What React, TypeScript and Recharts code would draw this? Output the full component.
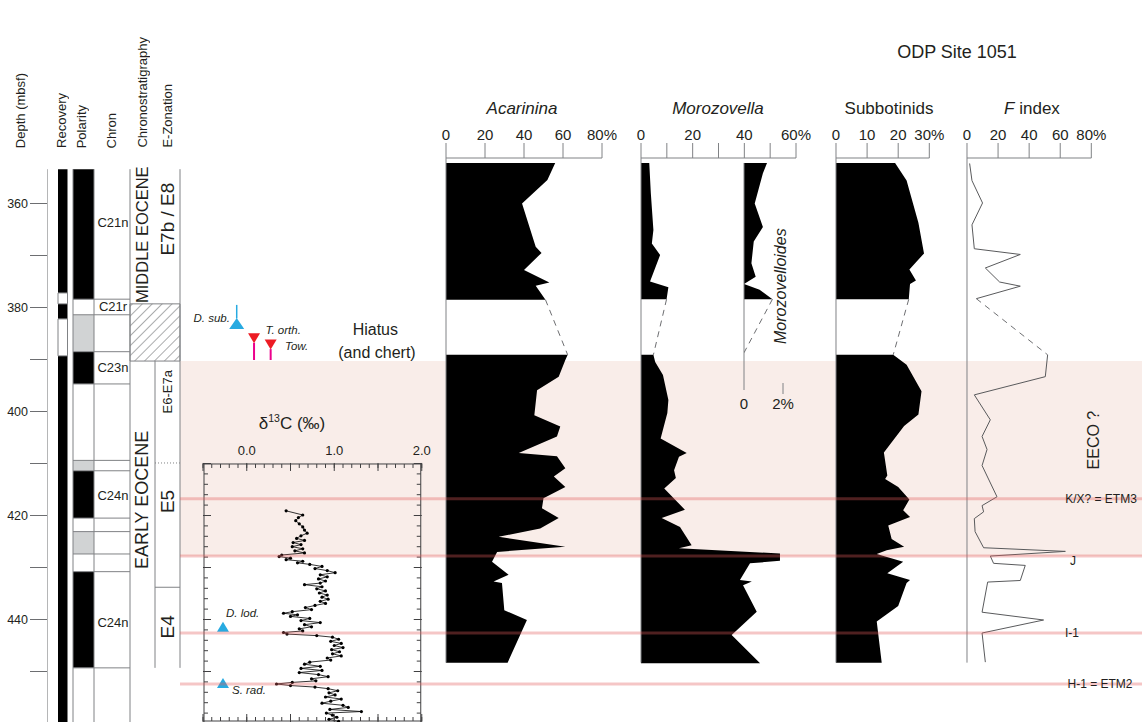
import React from 'react';
import {
  ComposedChart,
  Area,
  Line,
  XAxis,
  YAxis,
  ReferenceLine,
  ReferenceArea,
  ReferenceDot,
} from 'recharts';

type Pair = [number, number]; // [depth mbsf, value]

// ---------- census data (depth, %) ----------
const ACARININA_UPPER: Pair[] = [[352.2, 56], [355.5, 52], [360.0, 39], [368.3, 46], [369.5, 49], [372.8, 40], [375.2, 53], [375.8, 46], [378.5, 51]];
const ACARININA_LOWER: Pair[] = [[389.1, 62.4], [390.1, 61.2], [393.3, 57.8], [395.9, 46.7], [400.7, 45.3], [402.9, 58.6], [404.8, 56.9], [408.0, 37.3], [408.6, 56.9], [410.9, 61.2], [412.5, 55.3], [414.5, 61.2], [416.7, 50], [418.6, 49.2], [420.5, 57.8], [422.5, 48.3], [424.1, 27], [426.0, 61.2], [427.0, 26.2], [428.9, 23.6], [431.4, 32.1], [432.7, 24.4], [433.0, 28.7], [438.2, 29.9], [440.1, 41.5], [448.3, 31.6]];

const MOROZOVELLA_UPPER: Pair[] = [[352.2, 3.2], [358.0, 3.8], [365.1, 4.8], [367.7, 4.2], [369.9, 7.4], [375.0, 3.5], [376.1, 10.6], [378.4, 9.9]];
const MOROZOVELLA_LOWER: Pair[] = [[389.1, 4.8], [390.5, 5.5], [393.0, 8.5], [397.8, 10.6], [400.3, 10.2], [405.2, 7.6], [408.0, 17.7], [408.7, 14.7], [411.3, 12.8], [412.8, 13.5], [414.8, 9.0], [418.9, 17.0], [420.5, 8.0], [422.2, 15.1], [425.7, 19.6], [426.3, 14.7], [427.3, 53.8], [428.7, 53.8], [429.2, 42.2], [432.4, 38.3], [432.7, 42.9], [433.4, 39.5], [438.5, 44.8], [443.0, 35.1], [448.4, 46.1]];

const MOROZOVELLOIDES_UPPER: Pair[] = [[352.2, 1.18], [354.2, 0.97], [360.0, 0.55], [364.5, 0.97], [367.3, 0.5], [371.5, 0.38], [374.1, 0.6], [375.5, 0.0], [376.6, 0.8], [378.4, 1.46]];
const MOROZOVELLOIDES_LOWER: Pair[] = [[388.7, 0], [395.9, 0]];

const SUBBOTINIDS_UPPER: Pair[] = [[352.2, 19.0], [355.6, 22.7], [363.7, 26.5], [369.6, 28.3], [372.7, 23.6], [374.8, 25.7], [375.5, 23.8], [378.4, 23.4]];
const SUBBOTINIDS_LOWER: Pair[] = [[389.1, 18.4], [391.0, 22.7], [396.1, 27.5], [400.6, 26.5], [402.8, 21.9], [407.9, 15.4], [412.3, 16.5], [413.0, 15.8], [414.5, 20.0], [416.9, 23.6], [419.0, 21.6], [420.3, 23.8], [421.9, 16.8], [424.5, 17.9], [426.0, 21.9], [426.7, 16.3], [427.4, 13.1], [428.9, 21.6], [431.1, 16.5], [432.4, 23.8], [433.0, 22.7], [437.4, 20.0], [440.4, 13.1], [448.3, 14.7]];

const F_INDEX_UPPER: Pair[] = [[352.3, 1.7], [355.6, 3.2], [359.9, 10.0], [364.1, 3.2], [368.7, 4.7], [369.8, 34.3], [372.4, 11.8], [375.1, 21.0], [375.9, 34.3], [378.3, 6.0]];
const F_INDEX_LOWER: Pair[] = [[389.1, 51.9], [393.3, 50.4], [396.8, 4.7], [401.6, 15.0], [404.8, 9.7], [407.3, 12.9], [410.4, 9.7], [416.4, 19.3], [418.1, 9.7], [419.3, 10.7], [420.6, 4.7], [423.1, 5.2], [426.2, 10.7], [426.9, 63.3], [427.8, 15.0], [429.2, 17.1], [429.6, 37.5], [432.5, 34.3], [432.8, 13.3], [438.6, 9.7], [440.1, 49.3], [442.6, 9.7], [448.2, 11.8]];

// bulk carbonate d13C (depth, permil)
const D13C: Pair[] = [
  [419.1, 0.45], [419.9, 0.64], [420.4, 0.59], [421.0, 0.56], [421.6, 0.6], [422.2, 0.64], [422.8, 0.66], [423.4, 0.69], [423.9, 0.62], [424.4, 0.57],
  [424.8, 0.66], [425.2, 0.53], [425.6, 0.62], [426.0, 0.52], [426.4, 0.64], [426.8, 0.55], [427.2, 0.66], [427.6, 0.4], [427.9, 0.37], [428.2, 0.5],
  [428.5, 0.45], [428.8, 0.64], [429.1, 0.58], [429.4, 0.72], [429.8, 0.86], [430.2, 0.78], [430.6, 0.92], [431.0, 1.01], [431.4, 0.84], [431.8, 0.92],
  [432.2, 0.82], [432.6, 0.9], [433.0, 0.84], [433.3, 0.66], [433.7, 0.86], [434.1, 0.8], [434.5, 0.9], [434.9, 0.83], [435.3, 0.92], [435.7, 0.86],
  [436.1, 0.93], [436.5, 0.84], [436.9, 0.9], [437.3, 0.78], [437.7, 0.67], [438.1, 0.74], [438.5, 0.52], [438.8, 0.42], [439.1, 0.58], [439.4, 0.5],
  [439.8, 0.72], [440.2, 0.62], [440.6, 0.84], [441.0, 0.66], [441.4, 0.74], [441.8, 0.6], [442.2, 0.64], [442.5, 0.42], [442.8, 0.46], [443.1, 0.8],
  [443.4, 0.98], [443.8, 1.05], [444.2, 0.96], [444.6, 1.08], [445.0, 1.0], [445.4, 1.1], [445.8, 0.97], [446.2, 1.06], [446.6, 0.98], [447.0, 1.08],
  [447.4, 0.92], [447.8, 0.96], [448.2, 0.72], [448.6, 0.66], [449.0, 0.84], [449.4, 0.62], [449.8, 0.86], [450.2, 0.6], [450.6, 0.82], [451.0, 0.93],
  [451.4, 0.74], [451.8, 0.79], [452.1, 0.52], [452.4, 0.34], [452.7, 0.5], [453.0, 0.78], [453.3, 0.93], [453.7, 1.04], [454.1, 0.94], [454.5, 1.01],
  [454.9, 0.9], [455.3, 1.08], [455.7, 0.96], [456.1, 0.86], [456.5, 1.1], [456.9, 1.16], [457.3, 0.95], [457.7, 1.31], [458.0, 0.91], [458.4, 0.98],
  [458.8, 1.03], [459.2, 0.94], [459.6, 1.05],
];

// ---------- stratigraphy (depth intervals) ----------
const COLUMN_TOP = 353.4;
const RECOVERED: Pair[] = [[353.4, 377.2], [379.3, 382.2], [389.3, 460]];
const NOT_RECOVERED: Pair[] = [[377.2, 379.3], [382.2, 389.3]];
const POLARITY_NORMAL: Pair[] = [[353.4, 378.4], [388.5, 394.7], [411.4, 420.5], [430.8, 449.3]];
const POLARITY_UNCERTAIN: Pair[] = [[381.4, 388.5], [409.4, 411.4], [423.1, 427.4]];
const POLARITY_BOUNDS = [378.4, 381.4, 388.5, 394.7, 409.4, 411.4, 420.5, 423.1, 427.4, 430.8, 449.3];
const CHRONS = [
  { name: 'C21n', depth: 363.7 },
  { name: 'C21r', depth: 379.9 },
  { name: 'C23n', depth: 391.6 },
  { name: 'C24n', depth: 416.2 },
  { name: 'C24n', depth: 440.5 },
];
const EPOCHS = [
  { name: 'MIDDLE EOCENE', depth: 366.0 },
  { name: 'EARLY EOCENE', depth: 417.0 },
];
const ZONES = [
  { name: 'E7b / E8', depth: 363.0 },
  { name: 'E6-E7a', depth: 396.2 },
  { name: 'E5', depth: 417.3 },
  { name: 'E4', depth: 441.4 },
];
const HIATUS: Pair = [379.3, 390.3];
const ZONE_E6_E5 = 409.9;
const ZONE_E5_E4 = 433.8;
const ZONE_BASE = 449.3;

// ---------- events ----------
const EECO_BAND: Pair = [390.3, 427.8];
const HORIZONS = [
  { name: 'K/X? = ETM3', depth: 416.8 },
  { name: 'J', depth: 427.8 },
  { name: 'I-1', depth: 442.6 },
  { name: 'H-1 = ETM2', depth: 452.4 },
];

const DEPTH_TICKS = [360, 370, 380, 390, 400, 410, 420, 430, 440, 450];
const D13_MINOR = [-0.5, -0.4, -0.3, -0.2, -0.1, 0, 0.1, 0.2, 0.3, 0.4, 0.5, 0.6, 0.7, 0.8, 0.9, 1, 1.1, 1.2, 1.3, 1.4, 1.5, 1.6, 1.7, 1.8, 1.9, 2];
const D13_MAJOR = [-0.5, 0, 0.5, 1, 1.5, 2];
const D13_LABELS = [0, 1, 2];
const D13_DEPTH_MINOR = [410, 412, 414, 416, 418, 420, 422, 424, 426, 428, 430, 432, 434, 436, 438, 440, 442, 444, 446, 448, 450, 452, 454, 456, 458];
const D13_DEPTH_MAJOR = [410, 420, 430, 440, 450];

// ---------- layout ----------
const W = 1142;
const H = 722;
const PX_PER_M = 5.2;
const Y360 = 203.5;
const yOf = (d: number) => Y360 + (d - 360) * PX_PER_M;
const dOf = (y: number) => 360 + (y - Y360) / PX_PER_M;
const PLOT_TOP = 158;
const D_TOP = dOf(PLOT_TOP);
const D_BOT = dOf(H);
const DATA_BASE = 448.3;

const FONT = '"Liberation Sans", Arial, Helvetica, sans-serif';
const INK = '#231f20';
const GREY = '#808285';
const BOX = '#414042';
const BAND = '#f9ede9';
const PINK = '#e35d5d';
const BLUE = '#27aae1';
const RED = '#ed1c24';
const MAGENTA = '#ec008c';

const rows = (t: Pair[]) => t.map(([depth, v]) => ({ depth, v }));

// tick renderer that draws no label (a falsy `tick` would also drop the tick lines)
const NO_LABEL = () => <g />;

type Anchor = 'start' | 'middle' | 'end';
const textShape =
  (text: string, size: number, anchor: Anchor = 'middle', opts: { italic?: boolean; rotate?: boolean } = {}) =>
  (p: any) => (
    <text
      x={p.cx}
      y={p.cy}
      textAnchor={anchor}
      dominantBaseline="central"
      fontSize={size}
      fontFamily={FONT}
      fontStyle={opts.italic ? 'italic' : 'normal'}
      fill={INK}
      transform={opts.rotate ? `rotate(-90 ${p.cx} ${p.cy})` : undefined}
    >
      {text}
    </text>
  );

const triangle = (dir: 'up' | 'down', w: number, h: number, color: string) => (p: any) => {
  const { cx, cy } = p;
  const pts =
    dir === 'up'
      ? [[cx, cy - h / 2], [cx + w / 2, cy + h / 2], [cx - w / 2, cy + h / 2]]
      : [[cx - w / 2, cy - h / 2], [cx + w / 2, cy - h / 2], [cx, cy + h / 2]];
  return <polygon points={pts.map((q) => q.join(',')).join(' ')} fill={color} />;
};

// depth increases downwards (vertical layout already runs top -> bottom)
const depthAxis = (props: any = {}) => (
  <YAxis type="number" dataKey="depth" domain={[D_TOP, D_BOT]} hide width={0} allowDataOverflow {...props} />
);

function BandLayer() {
  return (
    <div style={{ position: 'absolute', left: 180, top: 0 }}>
      <ComposedChart width={W - 180} height={H} layout="vertical" margin={{ top: PLOT_TOP, right: 0, bottom: 0, left: 0 }}>
        <XAxis type="number" domain={[0, 1]} hide height={0} allowDataOverflow />
        {depthAxis()}
        <ReferenceArea x1={0} x2={1} y1={EECO_BAND[0]} y2={EECO_BAND[1]} fill={BAND} fillOpacity={1} stroke="none" />
      </ComposedChart>
    </div>
  );
}

function HorizonLayer() {
  return (
    <div style={{ position: 'absolute', left: 180, top: 0 }}>
      <ComposedChart width={W - 180} height={H} layout="vertical" margin={{ top: PLOT_TOP, right: 0, bottom: 0, left: 0 }}>
        <XAxis type="number" domain={[180, W]} hide height={0} allowDataOverflow />
        {depthAxis()}
        {HORIZONS.map((h) => (
          <ReferenceLine key={h.name} y={h.depth} stroke={PINK} strokeOpacity={0.35} strokeWidth={3} />
        ))}
        <ReferenceDot x={1101} y={HORIZONS[0].depth} r={0} shape={textShape(HORIZONS[0].name, 12)} />
        <ReferenceDot x={1073} y={dOf(561)} r={0} shape={textShape(HORIZONS[1].name, 12)} />
        <ReferenceDot x={1072} y={HORIZONS[2].depth} r={0} shape={textShape(HORIZONS[2].name, 12)} />
        <ReferenceDot x={1100} y={HORIZONS[3].depth} r={0} shape={textShape(HORIZONS[3].name, 12)} />
        <ReferenceDot x={1094} y={405.5} r={0} shape={textShape('EECO ?', 16, 'middle', { rotate: true })} />
      </ComposedChart>
    </div>
  );
}

function StratColumns() {
  // x domain 0..138 spans the five columns to the right of the depth axis
  const col = { rec: [11, 20.5], pol: [26, 47], chron: [47, 83], epoch: [83, 108], zone: [108, 133] };
  const vline = (x: number, a: number, b: number, key: string) => (
    <ReferenceLine key={key} segment={[{ x, y: a }, { x, y: b }]} stroke={GREY} ifOverflow="hidden" />
  );
  return (
    <div style={{ position: 'absolute', left: 0, top: 0 }}>
      <ComposedChart width={185} height={H} layout="vertical" margin={{ top: PLOT_TOP, right: 0, bottom: 0, left: 0 }}>
        <defs>
          <pattern id="hatch" width="7" height="7" patternUnits="userSpaceOnUse" patternTransform="rotate(45)">
            <line x1="0" y1="0" x2="0" y2="7" stroke="#58595b" strokeWidth="1" />
          </pattern>
        </defs>
        <XAxis type="number" domain={[0, 138]} hide height={0} allowDataOverflow />
        <YAxis
          type="number"
          dataKey="depth"
          domain={[D_TOP, D_BOT]}
          allowDataOverflow
          width={47}
          ticks={DEPTH_TICKS}
          interval={0}
          tickFormatter={(v: number) => (v % 20 === 0 ? String(v) : '')}
          tickSize={17}
          tickMargin={2}
          axisLine={false}
          tickLine={{ stroke: '#6d6e71' }}
          tick={{ fontSize: 12.5, fill: INK, fontFamily: FONT }}
        />
        <ReferenceLine segment={[{ x: 0, y: COLUMN_TOP }, { x: 0, y: D_BOT }]} stroke="#6d6e71" ifOverflow="hidden" />

        {RECOVERED.map(([a, b], i) => (
          <ReferenceArea key={`r${i}`} x1={col.rec[0]} x2={col.rec[1]} y1={a} y2={Math.min(b, D_BOT)} fill="#000" fillOpacity={1} stroke="none" ifOverflow="hidden" />
        ))}
        {NOT_RECOVERED.map(([a, b], i) => (
          <ReferenceArea key={`n${i}`} x1={col.rec[0]} x2={col.rec[1]} y1={a} y2={b} fill="#fff" fillOpacity={1} stroke={GREY} />
        ))}
        {POLARITY_NORMAL.map(([a, b], i) => (
          <ReferenceArea key={`p${i}`} x1={col.pol[0]} x2={col.pol[1]} y1={a} y2={b} fill="#000" fillOpacity={1} stroke="none" />
        ))}
        {POLARITY_UNCERTAIN.map(([a, b], i) => (
          <ReferenceArea key={`u${i}`} x1={col.pol[0]} x2={col.pol[1]} y1={a} y2={b} fill="#d1d3d4" fillOpacity={1} stroke="none" />
        ))}
        {POLARITY_BOUNDS.map((d) => (
          <ReferenceLine key={`b${d}`} segment={[{ x: col.pol[0], y: d }, { x: col.chron[1], y: d }]} stroke={GREY} />
        ))}
        {vline(col.pol[0], COLUMN_TOP, D_BOT, 'v1')}
        {vline(col.pol[1], COLUMN_TOP, D_BOT, 'v2')}
        {vline(col.chron[1], COLUMN_TOP, D_BOT, 'v3')}
        {vline(col.zone[0], HIATUS[1], ZONE_BASE, 'v4')}
        {vline(col.zone[1], COLUMN_TOP, ZONE_BASE, 'v5')}

        <ReferenceArea x1={col.epoch[0]} x2={col.zone[1]} y1={HIATUS[0]} y2={HIATUS[1]} fill="url(#hatch)" fillOpacity={1} stroke={GREY} />
        <ReferenceLine segment={[{ x: col.zone[0], y: ZONE_E6_E5 }, { x: col.zone[1], y: ZONE_E6_E5 }]} stroke={GREY} strokeDasharray="1 2" />
        <ReferenceLine segment={[{ x: col.zone[0], y: ZONE_E5_E4 }, { x: col.zone[1], y: ZONE_E5_E4 }]} stroke={GREY} />

        {CHRONS.map((c, i) => (
          <ReferenceDot key={`c${i}`} x={66} y={c.depth} r={0} shape={textShape(c.name, 13)} />
        ))}
        {EPOCHS.map((e) => (
          <ReferenceDot key={e.name} x={95.5} y={e.depth} r={0} shape={textShape(e.name, e.name.startsWith('MIDDLE') ? 16.5 : 18, 'middle', { rotate: true })} />
        ))}
        {ZONES.map((z) => (
          <ReferenceDot key={z.name} x={120.5} y={z.depth} r={0} shape={textShape(z.name, z.name === 'E6-E7a' ? 13 : 19, 'middle', { rotate: true })} />
        ))}
      </ComposedChart>
    </div>
  );
}

const D13_TOP = 409.9;
const D13_LEFT = 202.5;
const D13_W = 218.75;

function Delta13CPanel() {
  const labelH = 22;
  const top = yOf(D13_TOP) - labelH;
  const xProps = { type: 'number' as const, domain: [-0.5, 2], allowDataOverflow: true, interval: 0 };
  const yProps = { type: 'number' as const, dataKey: 'depth', domain: [D13_TOP, D_BOT], allowDataOverflow: true, interval: 0, tick: NO_LABEL, mirror: true, width: 1 };
  const line = { stroke: BOX };
  return (
    <div style={{ position: 'absolute', left: D13_LEFT - 10, top: 0 }}>
      <ComposedChart width={D13_W + 20} height={H} layout="vertical" margin={{ top, right: 10, bottom: 0, left: 10 }}>
        <XAxis xAxisId="tmin" orientation="top" mirror height={1} {...xProps} ticks={D13_MINOR} tick={NO_LABEL} tickSize={4} axisLine={line} tickLine={line} />
        <XAxis xAxisId="tmaj" orientation="top" mirror height={1} {...xProps} ticks={D13_MAJOR} tick={NO_LABEL} tickSize={8} axisLine={false} tickLine={line} />
        <XAxis xAxisId="bmin" orientation="bottom" mirror height={1} {...xProps} ticks={D13_MINOR} tick={NO_LABEL} tickSize={4} axisLine={line} tickLine={line} />
        <XAxis xAxisId="bmaj" orientation="bottom" mirror height={1} {...xProps} ticks={D13_MAJOR} tick={NO_LABEL} tickSize={8} axisLine={false} tickLine={line} />
        <XAxis
          xAxisId="lbl"
          orientation="top"
          height={labelH}
          {...xProps}
          ticks={D13_LABELS}
          tickFormatter={(v: number) => v.toFixed(1)}
          tickLine={false}
          axisLine={false}
          tickSize={0}
          tickMargin={8}
          tick={{ fontSize: 13, fill: INK, fontFamily: FONT }}
        />
        <YAxis yAxisId="lmin" orientation="left" {...yProps} ticks={D13_DEPTH_MINOR} tickSize={4} axisLine={line} tickLine={line} />
        <YAxis yAxisId="lmaj" orientation="left" {...yProps} ticks={D13_DEPTH_MAJOR} tickSize={8} axisLine={false} tickLine={line} />
        <YAxis yAxisId="rmin" orientation="right" {...yProps} ticks={D13_DEPTH_MINOR} tickSize={4} axisLine={line} tickLine={line} />
        <YAxis yAxisId="rmaj" orientation="right" {...yProps} ticks={D13_DEPTH_MAJOR} tickSize={8} axisLine={false} tickLine={line} />
        <Line
          xAxisId="lbl"
          yAxisId="lmin"
          data={rows(D13C)}
          dataKey="v"
          type="linear"
          stroke="#000"
          strokeWidth={0.8}
          dot={{ r: 1.6, fill: '#000', stroke: 'none' }}
          isAnimationActive={false}
        />
      </ComposedChart>
    </div>
  );
}

function MarkerLayer() {
  // shares the d13C horizontal scale; spans the full depth range
  const left = 185;
  const padL = D13_LEFT - left;
  return (
    <div style={{ position: 'absolute', left, top: 0 }}>
      <ComposedChart width={padL + D13_W + 20} height={H} layout="vertical" margin={{ top: PLOT_TOP, right: 20, bottom: 0, left: padL }}>
        <XAxis type="number" domain={[-0.5, 2]} hide height={0} allowDataOverflow />
        {depthAxis()}
        <ReferenceLine segment={[{ x: -0.109, y: 379.5 }, { x: -0.109, y: 382.1 }]} stroke={BLUE} strokeWidth={1.5} />
        <ReferenceLine segment={[{ x: 0.089, y: 386.8 }, { x: 0.089, y: 390.1 }]} stroke={MAGENTA} strokeWidth={2} />
        <ReferenceLine segment={[{ x: 0.279, y: 388.0 }, { x: 0.279, y: 390.1 }]} stroke={MAGENTA} strokeWidth={2} />
        <ReferenceDot x={-0.109} y={383.1} r={0} shape={triangle('up', 15, 11, BLUE)} />
        <ReferenceDot x={0.089} y={385.9} r={0} shape={triangle('down', 12, 10, RED)} />
        <ReferenceDot x={0.279} y={387.1} r={0} shape={triangle('down', 12, 10, RED)} />
        <ReferenceDot x={-0.266} y={441.4} r={0} shape={triangle('up', 12, 10, BLUE)} />
        <ReferenceDot x={-0.266} y={452.2} r={0} shape={triangle('up', 12, 10, BLUE)} />
        <ReferenceDot x={-0.186} y={382.0} r={0} shape={textShape('D. sub.', 11.5, 'end', { italic: true })} />
        <ReferenceDot x={0.22} y={384.3} r={0} shape={textShape('T. orth.', 11.5, 'start', { italic: true })} />
        <ReferenceDot x={0.443} y={387.4} r={0} shape={textShape('Tow.', 11.5, 'start', { italic: true })} />
        <ReferenceDot x={-0.231} y={438.75} r={0} shape={textShape('D. lod.', 11.5, 'start', { italic: true })} />
        <ReferenceDot x={-0.163} y={453.6} r={0} shape={textShape('S. rad.', 11.5, 'start', { italic: true })} />
        <ReferenceDot x={1.475} y={384.3} r={0} shape={textShape('Hiatus', 16)} />
        <ReferenceDot x={1.494} y={388.6} r={0} shape={textShape('(and chert)', 16)} />
      </ComposedChart>
    </div>
  );
}

interface PanelProps {
  left: number;
  width: number;
  max: number;
  ticks: number[];
  labelEvery: number;
  upper: Pair[];
  lower: Pair[];
  asLine?: boolean;
}

function PctPanel({ left, width, max, ticks, labelEvery, upper, lower, asLine }: PanelProps) {
  const up = rows(upper);
  const lo = rows(lower);
  const gap = [up[up.length - 1], lo[0]];
  const pad = 24;
  const axH = 30;
  const series = (data: any[], key: string) =>
    asLine ? (
      <Line key={key} data={data} dataKey="v" type="linear" stroke="#58595b" strokeWidth={1} dot={false} isAnimationActive={false} />
    ) : (
      <Area key={key} data={data} dataKey="v" type="linear" stroke="none" fill="#000" fillOpacity={1} isAnimationActive={false} />
    );
  return (
    <div style={{ position: 'absolute', left: left - pad, top: 0 }}>
      <ComposedChart width={width + 2 * pad} height={H} layout="vertical" margin={{ top: PLOT_TOP - axH, right: pad, bottom: 0, left: pad }}>
        <XAxis
          type="number"
          orientation="top"
          domain={[0, max]}
          ticks={ticks}
          interval={0}
          height={axH}
          tickSize={15}
          tickMargin={3}
          allowDataOverflow
          tickFormatter={(v: number) => (v % labelEvery ? '' : v === max ? `${v}%` : String(v))}
          axisLine={{ stroke: GREY }}
          tickLine={{ stroke: GREY }}
          tick={{ fontSize: 15, fill: INK, fontFamily: FONT }}
        />
        {depthAxis()}
        <ReferenceLine segment={[{ x: 0, y: D_TOP }, { x: 0, y: DATA_BASE }]} stroke={GREY} />
        {series(up, 'up')}
        {series(lo, 'lo')}
        <Line data={gap} dataKey="v" type="linear" stroke="#6d6e71" strokeWidth={1} strokeDasharray="6 5" dot={false} isAnimationActive={false} />
      </ComposedChart>
    </div>
  );
}

function MorozovelloidesPanel() {
  const left = 744.3;
  const width = 39;
  const pad = 20;
  const bottomY = 394;
  const axH = 25;
  const up = rows(MOROZOVELLOIDES_UPPER);
  const lo = rows(MOROZOVELLOIDES_LOWER);
  return (
    <div style={{ position: 'absolute', left: left - pad, top: 0 }}>
      <ComposedChart width={width + 2 * pad} height={bottomY + axH} layout="vertical" margin={{ top: PLOT_TOP, right: pad, bottom: 0, left: pad }}>
        <XAxis xAxisId="tk" type="number" orientation="bottom" mirror height={1} domain={[0, 2]} ticks={[2]} interval={0} tick={NO_LABEL} tickSize={11} axisLine={false} tickLine={{ stroke: GREY }} allowDataOverflow />
        <XAxis
          xAxisId="lbl"
          type="number"
          orientation="bottom"
          height={axH}
          domain={[0, 2]}
          ticks={[0, 2]}
          interval={0}
          tickFormatter={(v: number) => (v === 2 ? '2%' : String(v))}
          tickLine={false}
          axisLine={false}
          tickSize={0}
          tickMargin={4}
          allowDataOverflow
          tick={{ fontSize: 15, fill: INK, fontFamily: FONT }}
        />
        <YAxis type="number" dataKey="depth" domain={[D_TOP, dOf(bottomY)]} hide width={0} allowDataOverflow />
        <ReferenceLine xAxisId="lbl" segment={[{ x: 0, y: 352.2 }, { x: 0, y: dOf(390) }]} stroke={GREY} />
        <Area xAxisId="lbl" data={up} dataKey="v" type="linear" stroke="none" fill="#000" fillOpacity={1} isAnimationActive={false} />
        <Area xAxisId="lbl" data={lo} dataKey="v" type="linear" stroke="none" fill="#000" fillOpacity={1} isAnimationActive={false} />
        <Line xAxisId="lbl" data={[up[up.length - 1], lo[0]]} dataKey="v" type="linear" stroke="#6d6e71" strokeWidth={1} strokeDasharray="6 5" dot={false} isAnimationActive={false} />
        <ReferenceDot xAxisId="lbl" x={1.85} y={375.9} r={0} shape={textShape('Morozovelloides', 16, 'middle', { italic: true, rotate: true })} />
      </ComposedChart>
    </div>
  );
}

const Txt = ({ x, y, size, children, style }: any) => (
  <div
    style={{
      position: 'absolute',
      left: x,
      top: y,
      transform: 'translate(-50%, -50%)',
      fontSize: size,
      lineHeight: 1,
      whiteSpace: 'nowrap',
      color: INK,
      fontFamily: FONT,
      ...style,
    }}
  >
    {children}
  </div>
);

const HEADERS = [
  { text: 'Depth (mbsf)', x: 21 },
  { text: 'Recovery', x: 62 },
  { text: 'Polarity', x: 82 },
  { text: 'Chron', x: 112 },
  { text: 'Chronostratigraphy', x: 143 },
  { text: 'E-Zonation', x: 168 },
];

export default function App() {
  return (
    <div
      style={{
        position: 'fixed',
        left: 0,
        top: 0,
        width: W,
        height: H,
        overflow: 'hidden',
        background: '#fff',
        fontFamily: FONT,
        color: INK,
      }}
    >
      <BandLayer />
      <StratColumns />
      <Delta13CPanel />
      <MarkerLayer />
      <PctPanel left={445.7} width={156} max={80} ticks={[0, 20, 40, 60, 80]} labelEvery={20} upper={ACARININA_UPPER} lower={ACARININA_LOWER} />
      <PctPanel left={641} width={155} max={60} ticks={[0, 10, 20, 30, 40, 50, 60]} labelEvery={20} upper={MOROZOVELLA_UPPER} lower={MOROZOVELLA_LOWER} />
      <MorozovelloidesPanel />
      <PctPanel left={836} width={93.3} max={30} ticks={[0, 10, 20, 30]} labelEvery={10} upper={SUBBOTINIDS_UPPER} lower={SUBBOTINIDS_LOWER} />
      <PctPanel left={966.7} width={124.3} max={80} ticks={[0, 20, 40, 60, 80]} labelEvery={20} upper={F_INDEX_UPPER} lower={F_INDEX_LOWER} asLine />
      <HorizonLayer />

      {HEADERS.map((h) => (
        <div
          key={h.text}
          style={{
            position: 'absolute',
            left: h.x - 8,
            bottom: H - 148,
            width: 16,
            writingMode: 'vertical-rl',
            transform: 'rotate(180deg)',
            fontSize: 13,
            lineHeight: '16px',
            whiteSpace: 'nowrap',
          }}
        >
          {h.text}
        </div>
      ))}

      <Txt x={957} y={52} size={18}>ODP Site 1051</Txt>
      <Txt x={522} y={108} size={17} style={{ fontStyle: 'italic' }}>Acarinina</Txt>
      <Txt x={718} y={108} size={17} style={{ fontStyle: 'italic' }}>Morozovella</Txt>
      <Txt x={889} y={108} size={17}>Subbotinids</Txt>
      <Txt x={1032} y={108} size={17}>
        <i>F</i> index
      </Txt>
      <Txt x={292} y={423} size={17}>
        δ<sup style={{ fontSize: '0.62em', lineHeight: 0 }}>13</sup>C (‰)
      </Txt>
    </div>
  );
}
